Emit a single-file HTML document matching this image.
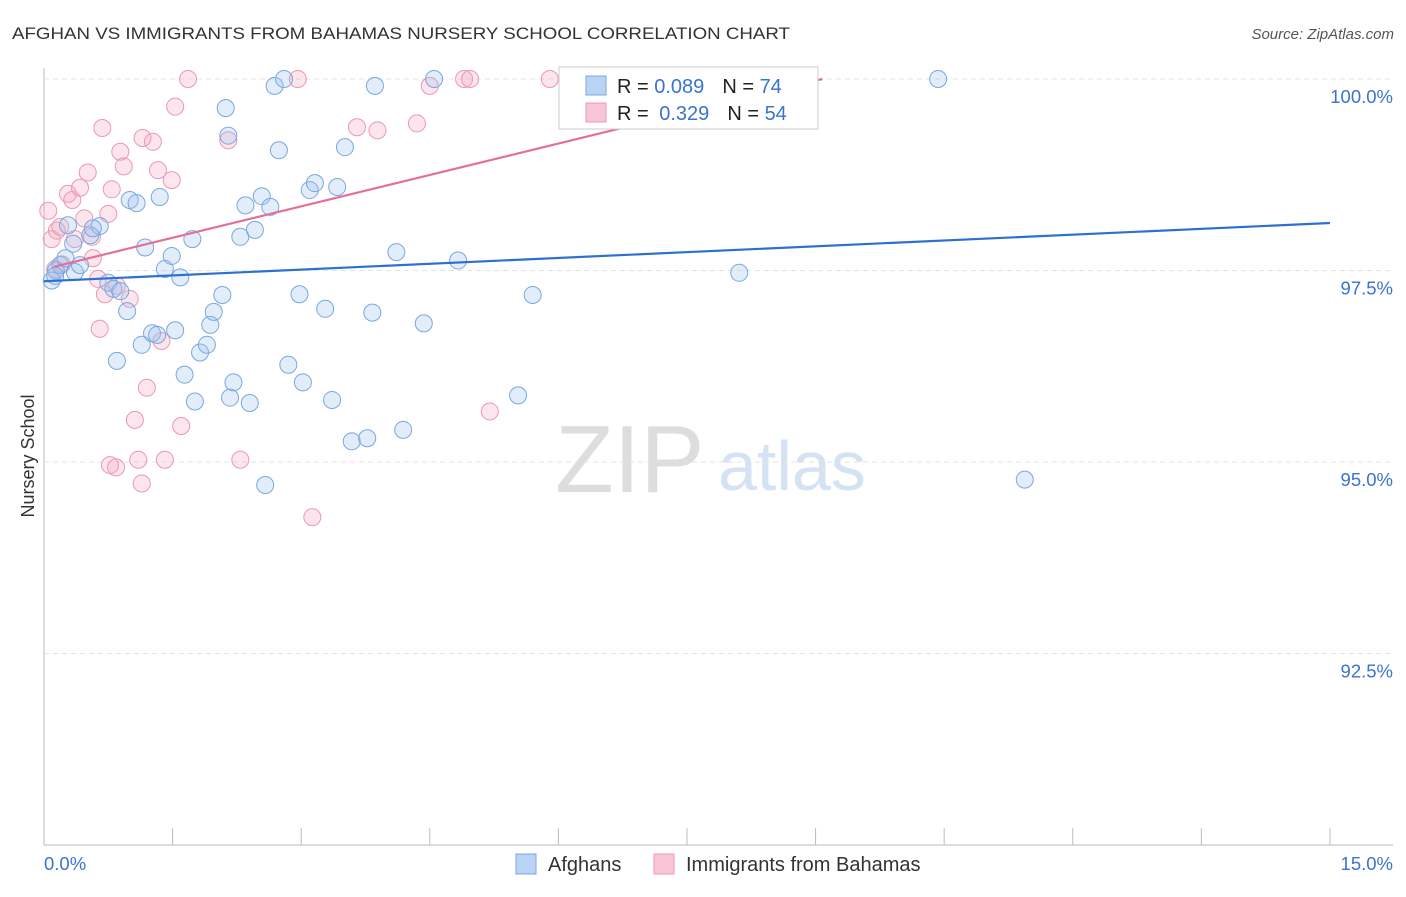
<!DOCTYPE html>
<html><head><meta charset="utf-8"><style>
body{margin:0;background:#fff;font-family:"Liberation Sans",sans-serif;}
svg text{font-family:"Liberation Sans",sans-serif;}
</style></head><body>
<svg id="c" width="1406" height="892">
<text x="12" y="39" font-size="17" fill="#333" textLength="778" lengthAdjust="spacingAndGlyphs">AFGHAN VS IMMIGRANTS FROM BAHAMAS NURSERY SCHOOL CORRELATION CHART</text>
<text x="1394" y="39" font-size="15" fill="#555" font-style="italic" text-anchor="end">Source: ZipAtlas.com</text>
<text x="34" y="456" font-size="18" fill="#333" transform="rotate(-90 34 456)" text-anchor="middle">Nursery School</text>
<text x="555" y="492" font-size="96" fill="#ddd" font-family="Liberation Serif">ZIP</text>
<text x="718" y="490" font-size="70" fill="#d5e2f3">atlas</text>
<g id="grid"></g><g id="pts"></g><g id="lines"></g>
<g>
<rect x="559" y="67" width="259" height="62" fill="#fff" stroke="#ccc"/>
<rect x="586" y="76" width="20" height="19" fill="#b9d3f5" stroke="#7aa7e0"/>
<rect x="586" y="103" width="20" height="19" fill="#f9c6d6" stroke="#eb98b3"/>
<text x="617" y="93" font-size="20" fill="#222">R = <tspan fill="#3a73d0">0.089</tspan><tspan dx="18">N = </tspan><tspan fill="#3a73d0">74</tspan></text>
<text x="617" y="120" font-size="20" fill="#222">R = <tspan fill="#3a73d0" dx="5">0.329</tspan><tspan dx="18">N = </tspan><tspan fill="#3a73d0">54</tspan></text>
</g>
<g>
<rect x="516" y="854" width="20" height="20" fill="#b9d3f5" stroke="#7aa7e0"/>
<text x="548" y="871" font-size="20" fill="#333">Afghans</text>
<rect x="654" y="854" width="20" height="20" fill="#f9c6d6" stroke="#eb98b3"/>
<text x="686" y="871" font-size="20" fill="#333">Immigrants from Bahamas</text>
</g>
</svg>
<script>
const yTicks=[100,97.5,95,92.5];
const yTickLabels=["100.0%","97.5%","95.0%","92.5%"];
const xTicks=[0,1.5,3,4.5,6,7.5,9,10.5,12,13.5,15];
const afghanX=[0.14,0.09,0.19,0.36,0.42,0.25,0.28,0.54,0.65,0.57,0.34,0.75,0.81,0.89,0.97,0.85,1.18,1.0,1.08,1.35,1.41,1.49,1.59,1.73,1.26,1.32,1.14,1.53,1.64,1.76,1.82,1.9,1.94,1.98,2.08,2.12,2.15,2.21,2.17,2.4,2.29,2.46,2.35,2.54,2.64,2.58,2.69,2.8,2.74,2.85,2.98,3.02,3.1,3.16,3.28,3.36,3.42,3.51,3.59,3.77,3.83,3.86,4.11,4.19,4.43,4.55,4.83,5.53,5.7,8.11,10.43,11.44,0.13];
const afghanY=[97.5,97.37,97.57,97.48,97.57,97.66,98.09,97.96,98.08,98.05,97.85,97.34,97.26,97.23,96.97,96.32,97.8,98.42,98.38,98.46,97.52,97.69,97.41,97.91,96.68,96.66,96.53,96.72,96.14,95.79,96.43,96.53,96.79,96.96,97.18,99.62,99.26,96.04,95.84,95.77,97.94,98.03,98.35,98.47,98.33,94.7,99.91,100,99.07,96.27,97.19,96.04,98.55,98.64,97.0,95.81,98.59,99.11,95.27,95.31,96.95,99.91,97.74,95.42,96.81,100,97.63,95.87,97.18,97.47,100,94.77,97.43];
const bahX=[0.05,0.09,0.15,0.19,0.21,0.13,0.28,0.33,0.36,0.42,0.47,0.51,0.56,0.57,0.63,0.65,0.68,0.71,0.75,0.79,0.85,0.89,0.93,1.0,1.06,1.1,1.14,1.15,1.2,1.27,1.33,1.37,1.41,1.49,1.53,1.6,1.68,2.15,2.29,2.96,3.13,3.65,3.89,4.35,4.5,4.9,4.97,5.2,5.9,6.86,8.82,8.88,0.84,0.77];
const bahY=[98.28,97.91,98.02,98.07,97.58,97.52,98.5,98.42,97.91,98.58,98.18,98.78,97.94,97.66,97.39,96.74,99.36,97.19,98.24,98.56,97.3,99.05,98.86,97.13,95.55,95.03,94.72,99.23,95.97,99.18,98.81,96.58,95.03,98.68,99.64,95.47,100,99.2,95.03,100,94.28,99.37,99.33,99.42,99.91,100,100,95.66,100,100,100,100,94.93,94.96];
const blueLine=[[0,97.36],[15,98.12]];
const pinkLine=[[0.12,97.55],[9.08,100]];
const X=v=>44+v*85.73, Y=v=>79+(100-v)*76.6;
const ns="http://www.w3.org/2000/svg";
function mk(p,t,a){const e=document.createElementNS(ns,t);for(const k in a)e.setAttribute(k,a[k]);p.appendChild(e);return e;}
const g=document.getElementById('grid');
let ax=mk(g,'line',{x1:44,y1:68,x2:44,y2:845,stroke:'#bbb'});


let bx=mk(g,'line',{x1:44,y1:845,x2:1393,y2:845,stroke:'#bbb'});


yTicks.forEach((t,i)=>{
 const l=mk(g,'line',{x1:44,y1:Y(t),x2:1393,y2:Y(t),stroke:'#e3e3e3','stroke-dasharray':'5,4'});
 
 
 const tx=mk(g,'text',{x:1393,y:Y(t)+24,'font-size':18.5,fill:'#3a73d0','text-anchor':'end'});
 tx.textContent=yTickLabels[i];
 
 
});
xTicks.forEach(t=>{
 const l=mk(g,'line',{x1:X(t),y1:828,x2:X(t),y2:845,stroke:'#bbb'});
 
 
});
const xl0=mk(g,'text',{x:44,y:870,'font-size':18.5,fill:'#3a73d0'});xl0.textContent='0.0%';


const xl1=mk(g,'text',{x:1393,y:870,'font-size':18.5,fill:'#3a73d0','text-anchor':'end'});xl1.textContent='15.0%';


const P=document.getElementById('pts');
bahX.forEach((x,i)=>{const c=mk(P,'circle',{cx:X(x),cy:Y(bahY[i]),r:8.5,fill:'rgba(246,170,195,0.3)',stroke:'#eb98b3','stroke-width':1});
 
 });
afghanX.forEach((x,i)=>{const c=mk(P,'circle',{cx:X(x),cy:Y(afghanY[i]),r:8.5,fill:'rgba(160,195,240,0.3)',stroke:'#7aa7e0','stroke-width':1});
 
 });
const L=document.getElementById('lines');
const b=mk(L,'line',{x1:X(blueLine[0][0]),y1:Y(blueLine[0][1]),x2:X(blueLine[1][0]),y2:Y(blueLine[1][1]),stroke:'#2f6fd0','stroke-width':2.2});


const p=mk(L,'line',{x1:X(pinkLine[0][0]),y1:Y(pinkLine[0][1]),x2:X(pinkLine[1][0]),y2:Y(pinkLine[1][1]),stroke:'#e4709a','stroke-width':2.2});


</script>
</body></html>
